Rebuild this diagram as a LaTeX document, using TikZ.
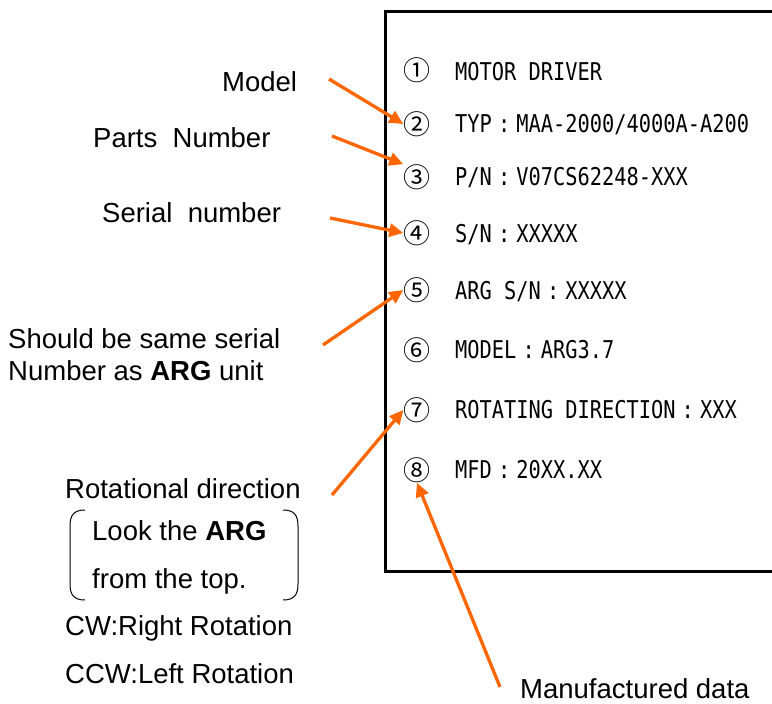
\documentclass[tikz,border=0pt]{standalone}
\usepackage{fontspec}
\setmainfont{Liberation Sans}
\newfontfamily\platefont[FakeStretch=0.83]{DejaVu Sans Mono}
\newfontfamily\numfont{Noto Sans CJK JP}
\usetikzlibrary{arrows.meta}
\definecolor{callout}{RGB}{255,102,0}
\newcommand{\fwcolon}{\makebox[1em][c]{:}}

\begin{document}
\begin{tikzpicture}[x=1pt,y=-1pt,
lab/.style={font=\fontsize{27.5}{33}\selectfont,inner sep=0pt,anchor=base west},
plate/.style={font=\platefont\fontsize{24.5}{29}\selectfont,inner sep=0pt,anchor=base west},
num/.style={font=\numfont\fontsize{27}{32}\selectfont,inner sep=0pt},
pointer/.style={-{Triangle[length=14pt,width=13pt]},line width=3.3pt,draw=callout},
frame/.style={line width=3pt,draw=black},
paren/.style={line width=1pt,draw=black}]
\useasboundingbox (0,0) rectangle (772,704);
% name plate
\draw[frame] (772,11.5) -| (385.5,571.5) -- (772,571.5);
\node[num] (d1) at (417,70) {①};
\node[num] (d2) at (417,124) {②};
\node[num] (d3) at (417,177) {③};
\node[num] (d4) at (417,233) {④};
\node[num] (d5) at (417,290) {⑤};
\node[num] (d6) at (417,350) {⑥};
\node[num] (d7) at (417,410) {⑦};
\node[num] (d8) at (417,470) {⑧};
\node[plate] (motor) at (455,80) {MOTOR DRIVER};
\node[plate] (typ) at (455,132) {TYP\fwcolon MAA-2000/4000A-A200};
\node[plate] (pn) at (455,185) {P/N\fwcolon V07CS62248-XXX};
\node[plate] (sn) at (455,242) {S/N\fwcolon XXXXX};
\node[plate] (argsn) at (455,299) {ARG S/N\fwcolon XXXXX};
\node[plate] (model) at (455,358) {MODEL\fwcolon ARG3.7};
\node[plate] (rotating) at (455,418) {ROTATING DIRECTION\fwcolon XXX};
\node[plate] (mfd) at (455,478) {MFD\fwcolon 20XX.XX};
% explanations
\node[lab] (lmodel) at (222,91) {Model};
\node[lab] (lparts) at (93,147) {Parts~~Number};
\node[lab] (lserial) at (102,222) {Serial~~number};
\node[lab] (lsame) at (8,348) {Should be same serial};
\node[lab] (lsame2) at (8,380) {Number as \textbf{ARG} unit};
\node[lab] (lrot) at (65,498) {Rotational direction};
\node[lab] (llook) at (92,540) {Look the \textbf{ARG}};
\node[lab] (ltop) at (92,588) {from the top.};
\node[lab] (lcw) at (65,635) {CW:Right Rotation};
\node[lab] (lccw) at (65,683) {CCW:Left Rotation};
\node[lab] (lmfd) at (520,698) {Manufactured data};
\draw[paren] (85,510) .. controls (74,510) and (70,515) .. (70,526) -- (70,584) .. controls (70,595) and (74,600) .. (85,600);
\draw[paren] (283,510) .. controls (294,510) and (298,515) .. (298,526) -- (298,584) .. controls (298,595) and (294,600) .. (283,600);
% callouts
\coordinate (cmodel) at (329,79);
\coordinate (cparts) at (332,136);
\coordinate (cserial) at (330,218);
\coordinate (csame) at (323,345);
\coordinate (crot) at (332,495);
\coordinate (cmfd) at (500,687);
\draw[pointer] (cmodel)--(d2.west);
\draw[pointer] (cparts)--(d3.north west);
\draw[pointer] (cserial)--(d4.west);
\draw[pointer] (csame)--(d5.west);
\draw[pointer] (crot)--(d7.west);
\draw[pointer] (cmfd)--(d8.south);
\end{tikzpicture}
\end{document}
